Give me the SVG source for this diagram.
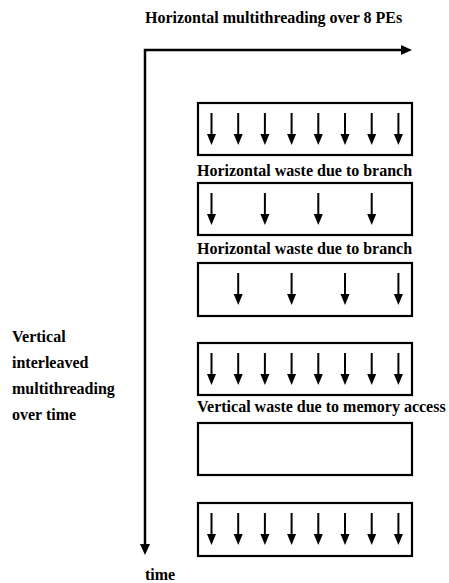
<svg xmlns="http://www.w3.org/2000/svg" width="449" height="583" viewBox="0 0 449 583">
<style>
text{font-family:"Liberation Serif","Times New Roman",serif;font-weight:bold;font-size:16px;fill:#000}
.box{fill:#fff;stroke:#000;stroke-width:2.2}
.ax{fill:none;stroke:#000;stroke-width:2.5}
</style>
<defs>
<g id="pe">
<line x1="0" y1="10" x2="0" y2="32" stroke="#000" stroke-width="2"/>
<polygon points="-4.5,31 4.5,31 0,42"/>
</g>
</defs>
<rect width="449" height="583" fill="#fff"/>
<g id="connectors">
<path class="ax" d="M145,545 V50 H402"/>
<polygon points="401,45 412,50 401,55"/>
<polygon points="140,544 150,544 145,555"/>
</g>
<g id="title"><text x="145" y="23">Horizontal multithreading over 8 PEs</text></g>
<g id="timeLabel"><text x="145" y="580">time</text></g>
<g id="verticalLabel">
<text x="12" y="342">Vertical</text>
<text x="12" y="368">interleaved</text>
<text x="12" y="394">multithreading</text>
<text x="12" y="420">over time</text>
</g>
<g id="row1">
<rect class="box" x="198" y="103" width="214" height="52"/>
<use href="#pe" x="211.5" y="103"/><use href="#pe" x="238.2" y="103"/><use href="#pe" x="264.9" y="103"/><use href="#pe" x="291.6" y="103"/>
<use href="#pe" x="318.3" y="103"/><use href="#pe" x="345" y="103"/><use href="#pe" x="371.7" y="103"/><use href="#pe" x="398.4" y="103"/>
</g>
<g id="label1"><text x="197" y="176">Horizontal waste due to branch</text></g>
<g id="row2">
<rect class="box" x="198" y="183" width="214" height="52"/>
<use href="#pe" x="211.5" y="183"/><use href="#pe" x="264.9" y="183"/><use href="#pe" x="318.3" y="183"/><use href="#pe" x="371.7" y="183"/>
</g>
<g id="label2"><text x="197" y="254">Horizontal waste due to branch</text></g>
<g id="row3">
<rect class="box" x="198" y="263" width="214" height="53"/>
<use href="#pe" x="238.2" y="263"/><use href="#pe" x="291.6" y="263"/><use href="#pe" x="345" y="263"/><use href="#pe" x="398.4" y="263"/>
</g>
<g id="row4">
<rect class="box" x="198" y="343" width="214" height="52"/>
<use href="#pe" x="211.5" y="343"/><use href="#pe" x="238.2" y="343"/><use href="#pe" x="264.9" y="343"/><use href="#pe" x="291.6" y="343"/>
<use href="#pe" x="318.3" y="343"/><use href="#pe" x="345" y="343"/><use href="#pe" x="371.7" y="343"/><use href="#pe" x="398.4" y="343"/>
</g>
<g id="label3"><text x="197" y="412">Vertical waste due to memory access</text></g>
<g id="row5">
<rect class="box" x="198" y="423" width="214" height="52"/>
</g>
<g id="row6">
<rect class="box" x="198" y="503" width="214" height="53"/>
<use href="#pe" x="211.5" y="503"/><use href="#pe" x="238.2" y="503"/><use href="#pe" x="264.9" y="503"/><use href="#pe" x="291.6" y="503"/>
<use href="#pe" x="318.3" y="503"/><use href="#pe" x="345" y="503"/><use href="#pe" x="371.7" y="503"/><use href="#pe" x="398.4" y="503"/>
</g>
</svg>
